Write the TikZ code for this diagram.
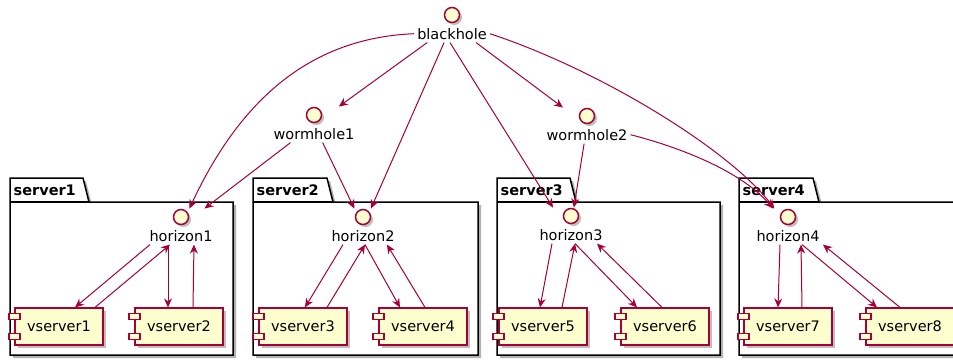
\documentclass[tikz,border=0pt]{standalone}
\usepackage{fontspec}
\setmainfont{DejaVu Sans}
\usetikzlibrary{positioning,fit,shadows,arrows.meta}

\definecolor{umlred}{HTML}{A80036}
\definecolor{umlfill}{HTML}{FEFECE}
\newcommand\umlsize{\fontsize{14.5pt}{17pt}\selectfont}

\tikzset{
  iface/.style={circle, draw=umlred, fill=umlfill, line width=1.5pt,
    minimum size=15pt, inner sep=0pt,
    drop shadow={shadow xshift=2.5pt, shadow yshift=-2.5pt, opacity=0.25, fill=black}},
  iflabel/.style={font=\umlsize, text height=11pt, text depth=0pt, inner sep=3pt},
  entity/.style={inner sep=0pt},
  vsrv/.style={draw=umlred, fill=umlfill, line width=1.2pt, minimum width=88pt,
    minimum height=37pt, inner sep=0pt, font=\umlsize,
    drop shadow={shadow xshift=3pt, shadow yshift=-3pt, opacity=0.25, fill=black}},
  vsrvbit/.style={draw=umlred, fill=umlfill, line width=1.2pt},
  pkg/.style={draw=black, fill=white, line width=1.5pt,
    drop shadow={shadow xshift=3pt, shadow yshift=-3pt, opacity=0.3, fill=black}},
  pkgline/.style={black, line width=1.5pt},
  pkgname/.style={font=\umlsize\bfseries, anchor=base west, inner sep=0pt},
  link/.style={umlred, line width=1pt, -{Stealth[length=9pt,width=8pt,inset=3pt]}},
}

\begin{document}
\begin{tikzpicture}[x=1pt, y=-1pt]
  \useasboundingbox (0,0) rectangle (953,360);
  \clip (0,0) rectangle (953,360);

  % packages
  \draw[pkg] (10,178) -- (83,178) -- (89,202) -- (233,202) -- (233,355) -- (10,355) -- cycle;
  \draw[pkgline] (10,202) -- (89,202);
  \node[pkgname] (S1) at (13.5,195) {server1};

  \draw[pkg] (253,178) -- (327,178) -- (333,202) -- (478,202) -- (478,355) -- (253,355) -- cycle;
  \draw[pkgline] (253,202) -- (333,202);
  \node[pkgname] (S2) at (256.5,195) {server2};

  \draw[pkg] (497,178) -- (570,178) -- (576,202) -- (720,202) -- (720,355) -- (497,355) -- cycle;
  \draw[pkgline] (497,202) -- (576,202);
  \node[pkgname] (S3) at (500.5,195) {server3};

  \draw[pkg] (739,178) -- (813,178) -- (819,202) -- (968,202) -- (968,355) -- (739,355) -- cycle;
  \draw[pkgline] (739,202) -- (819,202);
  \node[pkgname] (S4) at (742.5,195) {server4};

  % interfaces
  \node[iface] (BH) at (452,15) {};
  \node[iflabel, below=10pt] (BHl) at (BH) {blackhole};
  \node[entity, fit=(BH)(BHl)] (BHe) {};

  \node[iface] (W1) at (314,115) {};
  \node[iflabel, below=10pt] (W1l) at (W1) {wormhole1};
  \node[entity, fit=(W1)(W1l)] (W1e) {};

  \node[iface] (W2) at (587,116) {};
  \node[iflabel, below=10pt] (W2l) at (W2) {wormhole2};
  \node[entity, fit=(W2)(W2l)] (W2e) {};

  \node[iface] (H1) at (181,217) {};
  \node[iflabel, below=10pt] (H1l) at (H1) {horizon1};
  \node[entity, fit=(H1)(H1l)] (H1e) {};

  \node[iface] (H2) at (363,217) {};
  \node[iflabel, below=10pt] (H2l) at (H2) {horizon2};
  \node[entity, fit=(H2)(H2l)] (H2e) {};

  \node[iface] (H3) at (571,216) {};
  \node[iflabel, below=10pt] (H3l) at (H3) {horizon3};
  \node[entity, fit=(H3)(H3l)] (H3e) {};

  \node[iface] (H4) at (788,217) {};
  \node[iflabel, below=10pt] (H4l) at (H4) {horizon4};
  \node[entity, fit=(H4)(H4l)] (H4e) {};

  % components
  \node[vsrv] (V1) at (59,326.5) {vserver1};
  \node[vsrv] (V2) at (179,326.5) {vserver2};
  \node[vsrv] (V3) at (303,326.5) {vserver3};
  \node[vsrv] (V4) at (423,326.5) {vserver4};
  \node[vsrv] (V5) at (543,326.5) {vserver5};
  \node[vsrv] (V6) at (665,326.5) {vserver6};
  \node[vsrv] (V7) at (788,326.5) {vserver7};
  \node[vsrv] (V8) at (910,326.5) {vserver8};
  \foreach \i in {1,...,8} {
    \draw[vsrvbit] ([xshift=-5.5pt,yshift=7pt]V\i.west) rectangle ++(11pt,6pt);
    \draw[vsrvbit] ([xshift=-5.5pt,yshift=-7pt]V\i.west) rectangle ++(11pt,-6pt);
  }

  % blackhole and wormholes
  \draw[link] (BHl.west) .. controls (310,38) and (240,100) .. (H1e);
  \draw[link] (BHe) -- (W1e);
  \draw[link] (BHe) -- (H2e);
  \draw[link] ([xshift=-2pt]BHe.south) -- ([xshift=-18pt]H3e.north);
  \draw[link] (BHe) -- (W2e);
  \draw[link] (BHl.east) .. controls (600,70) and (730,150) .. (H4e);
  \draw[link] (W1e) -- (H1e);
  \draw[link] (W1e) -- (H2e);
  \draw[link] (W2e) -- (H3e);
  \draw[link] (W2l.east) .. controls (690,150) and (745,175) .. (H4e);

  % server1
  \draw[link] ([xshift=-31pt]H1e.south) -- ([xshift=16pt]V1.north);
  \draw[link] ([xshift=36pt]V1.north) -- ([xshift=-11pt]H1e.south);
  \draw[link] ([xshift=-13pt]H1e.south) -- ([xshift=-11pt]V2.north);
  \draw[link] ([xshift=14pt]V2.north) -- ([xshift=13pt]H1e.south);

  % server2
  \draw[link] ([xshift=-20pt]H2e.south) -- ([xshift=2pt]V3.north);
  \draw[link] ([xshift=24pt]V3.north) -- ([xshift=2pt]H2e.south);
  \draw[link] ([xshift=2pt]H2e.south) -- ([xshift=-23pt]V4.north);
  \draw[link] ([xshift=2pt]V4.north) -- ([xshift=24pt]H2e.south);

  % server3
  \draw[link] ([xshift=-19pt]H3e.south) -- ([xshift=-3pt]V5.north);
  \draw[link] ([xshift=19pt]V5.north) -- ([xshift=4pt]H3e.south);
  \draw[link] ([xshift=4pt]H3e.south) -- ([xshift=-28pt]V6.north);
  \draw[link] ([xshift=-3pt]V6.north) -- ([xshift=26pt]H3e.south);

  % server4
  \draw[link] ([xshift=-8pt]H4e.south) -- ([xshift=-10pt]V7.north);
  \draw[link] ([xshift=14pt]V7.north) -- ([xshift=13pt]H4e.south);
  \draw[link] ([xshift=14pt]H4e.south) -- ([xshift=-33pt]V8.north);
  \draw[link] ([xshift=-10pt]V8.north) -- ([xshift=35pt]H4e.south);
\end{tikzpicture}
\end{document}
